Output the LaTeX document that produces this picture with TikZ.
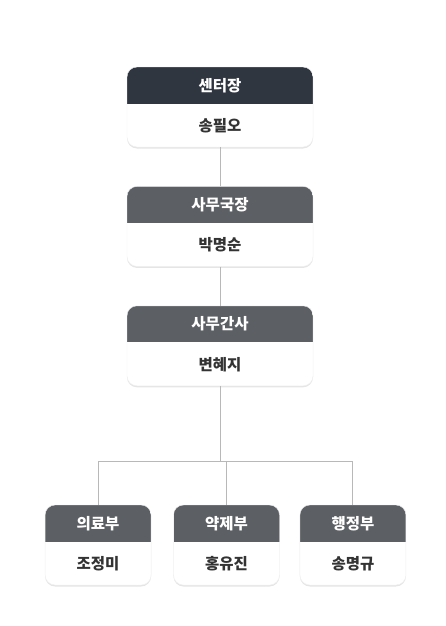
\documentclass[tikz,border=0pt]{standalone}
\usepackage{fontspec}
\setmainfont{Noto Sans CJK KR}
\usetikzlibrary{positioning,shadows}
\definecolor{topcol}{HTML}{2F3640}
\definecolor{midcol}{HTML}{5C5F63}
\definecolor{linecol}{HTML}{B8B8B8}
\definecolor{namecol}{HTML}{333333}

\begin{document}
\begin{tikzpicture}[x=1pt,y=-1pt,
  unit/.style={fill=white, draw=black!6, rounded corners=10pt, inner sep=0pt,
    minimum width=186pt, minimum height=80pt,
    drop shadow={shadow xshift=0pt, shadow yshift=-1.5pt, opacity=.10, fill=black}},
  dept/.style={unit, minimum width=106pt},
  head/.style={path picture={\fill[#1, sharp corners] (path picture bounding box.north west)
    rectangle ([yshift=-36.5pt]path picture bounding box.north east);}},
  rolelabel/.style={text=white, font=\bfseries\fontsize{15.5}{17}\selectfont},
  wholabel/.style={text=namecol, font=\bfseries\fontsize{15.5}{17}\selectfont},
  link/.style={draw=linecol, line width=1pt}]
 \useasboundingbox (0,0) rectangle (446,626);
 \node[unit, head=topcol] (center) at (220,107) {};
 \node[unit, head=midcol, below=39pt of center] (office) {};
 \node[unit, head=midcol, below=39pt of office] (deputy) {};
 \node[dept, head=midcol] (pharm) at (226.5,545) {};
 \node[dept, head=midcol, left=22pt of pharm] (medic) {};
 \node[dept, head=midcol, right=20pt of pharm] (admin) {};
 \foreach \post/\role/\who in {center/센터장/송필오, office/사무국장/박명순,
   deputy/사무간사/변혜지, medic/의료부/조정미, pharm/약제부/홍유진, admin/행정부/송명규} {
  \node[rolelabel] (\post-role) at ([yshift=-18.5pt]\post.north) {\role};
  \node[wholabel] (\post-who) at ([yshift=21.5pt]\post.south) {\who};
 }
 \coordinate (fork) at (220,461.5);
 \draw[link] (center) -- (office);
 \draw[link] (office) -- (deputy);
 \draw[link] (deputy) -- (fork);
 \draw[link] (medic) |- (admin |- fork) -- (admin);
 \draw[link] (pharm) -- (pharm |- fork);
\end{tikzpicture}
\end{document}
